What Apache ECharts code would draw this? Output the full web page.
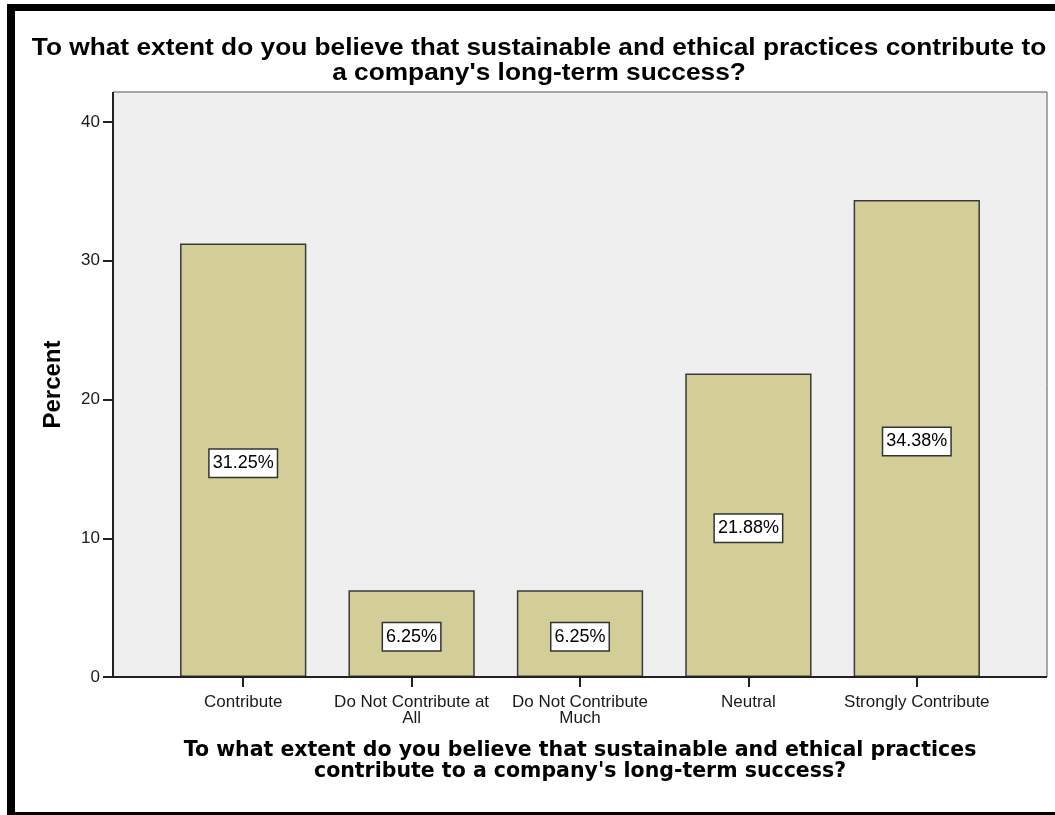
<!DOCTYPE html>
<html>
<head>
<meta charset="utf-8">
<script src="https://cdn.jsdelivr.net/npm/echarts@6/dist/echarts.min.js"></script>
<style>
  html, body { margin: 0; padding: 0; background: #ffffff; }
  #chart { width: 1055px; height: 815px; }
</style>
</head>
<body>
<div id="chart"></div>
<script>
// Response categories and their share of respondents (percent)
const categories = [
  'Contribute',
  'Do Not Contribute at\nAll',
  'Do Not Contribute\nMuch',
  'Neutral',
  'Strongly Contribute'
];
const percents = [31.25, 6.25, 6.25, 21.88, 34.38];
const yTicks = [0, 10, 20, 30, 40];

const questionTitle = 'To what extent do you believe that sustainable and ethical practices contribute to\na company\'s long-term success?';
const xAxisTitle = 'To what extent do you believe that sustainable and ethical practices\ncontribute to a company\'s long-term success?';
const yAxisTitle = 'Percent';

const chart = echarts.init(document.getElementById('chart'), null, { renderer: 'canvas' });

const labelFont = 'Liberation Sans, Arial, sans-serif';

chart.setOption({
  animation: false,
  backgroundColor: '#ffffff',
  graphic: [
    // dark frame along the top, left and bottom edges
    { type: 'rect', shape: { x: 7, y: 4, width: 1048, height: 7 }, style: { fill: '#000000' }, silent: true },
    { type: 'rect', shape: { x: 7, y: 4, width: 8, height: 811 }, style: { fill: '#000000' }, silent: true },
    { type: 'rect', shape: { x: 7, y: 812, width: 1048, height: 3 }, style: { fill: '#000000' }, silent: true },
    // chart title, slightly widened bold face
    {
      type: 'text',
      x: 539,
      y: 36,
      scaleX: 1.095,
      silent: true,
      style: {
        text: questionTitle,
        font: 'bold 24px "Liberation Sans", Arial, sans-serif',
        lineHeight: 25,
        fill: '#000000',
        align: 'center',
        verticalAlign: 'top'
      }
    }
  ],
  grid: [
    // plot frame with the light grey panel
    { left: 113, right: 8, top: 92, bottom: 138, show: true, backgroundColor: '#efefef', borderColor: '#555555', borderWidth: 1, containLabel: false },
    // bar area, inset inside the panel (value 40 sits at the top tick)
    { left: 159, right: 54, top: 122, bottom: 138, containLabel: false }
  ],
  xAxis: [
    { gridIndex: 0, type: 'value', min: 0, max: 1, show: false },
    {
      gridIndex: 1,
      type: 'category',
      data: categories,
      name: xAxisTitle,
      nameLocation: 'middle',
      nameGap: 63,
      nameTextStyle: {
        fontFamily: 'DejaVu Sans, Verdana, sans-serif',
        fontWeight: 'bold',
        fontSize: 20.5,
        lineHeight: 21,
        color: '#000000'
      },
      axisLine: { show: false },
      axisTick: { show: true, alignWithLabel: true, length: 10, lineStyle: { color: '#222222', width: 2 } },
      axisLabel: {
        interval: 0,
        margin: 17,
        fontFamily: labelFont,
        fontSize: 17,
        lineHeight: 16,
        color: '#1a1a1a'
      },
      splitLine: { show: false }
    }
  ],
  yAxis: [
    {
      // carries only the axis title, centred on the whole panel
      gridIndex: 0,
      type: 'value',
      min: 0,
      max: 1,
      name: yAxisTitle,
      nameLocation: 'middle',
      nameGap: 48,
      nameTextStyle: {
        fontFamily: labelFont,
        fontWeight: 'bold',
        fontSize: 24,
        color: '#000000'
      },
      axisLine: { show: false },
      axisTick: { show: false },
      axisLabel: { show: false },
      splitLine: { show: false }
    },
    {
      gridIndex: 1,
      type: 'value',
      min: 0,
      max: 40,
      interval: 10,
      offset: 46,
      axisLine: { show: true, lineStyle: { color: '#222222', width: 2 } },
      axisTick: { show: true, length: 10, lineStyle: { color: '#222222', width: 2 } },
      axisLabel: {
        margin: 13,
        fontFamily: labelFont,
        fontSize: 17,
        color: '#1a1a1a',
        formatter: function (v) { return yTicks.indexOf(v) >= 0 ? String(v) : ''; }
      },
      splitLine: { show: false }
    }
  ],
  series: [
    {
      // baseline and left edge of the plot frame
      type: 'line',
      xAxisIndex: 0,
      yAxisIndex: 0,
      data: [[0, 1], [0, 0], [1, 0]],
      symbol: 'none',
      lineStyle: { color: '#222222', width: 2 },
      silent: true,
      z: 5
    },
    {
      type: 'bar',
      xAxisIndex: 1,
      yAxisIndex: 1,
      data: percents,
      barWidth: '75%',
      itemStyle: {
        color: '#d3ce98',
        borderColor: '#3a3a3a',
        borderWidth: 1.5
      },
      label: {
        show: true,
        position: 'inside',
        offset: [0, 3],
        formatter: function (p) { return p.value.toFixed(2) + '%'; },
        fontFamily: labelFont,
        fontSize: 18,
        color: '#000000',
        backgroundColor: '#ffffff',
        borderColor: '#333333',
        borderWidth: 1.5,
        padding: [5, 3, 4, 3]
      },
      z: 3
    }
  ]
});
</script>
</body>
</html>
